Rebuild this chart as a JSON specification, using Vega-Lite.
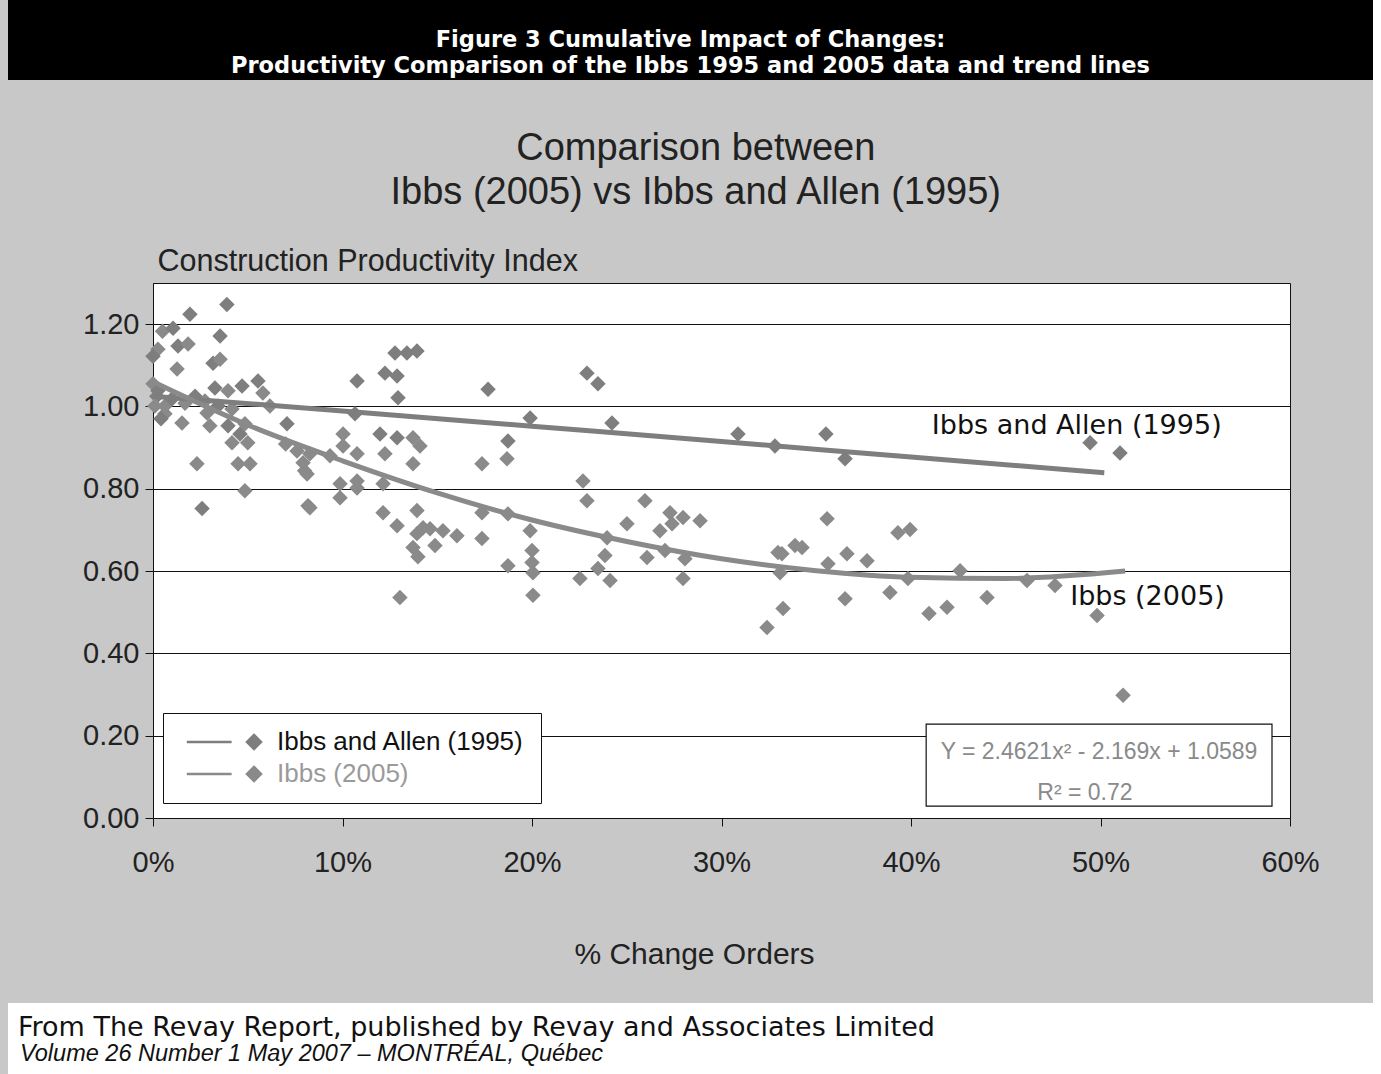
{
  "$schema": "https://vega.github.io/schema/vega-lite/v6.json",
  "background": "#c8c8c8",
  "padding": {"left": 8, "top": 0, "right": 0, "bottom": 0},
  "spacing": 5,
  "config": {"view": {"stroke": null}, "font": "Liberation Sans"},
  "datasets": {
    "points": [
      {"x":0.039,"y":1.248,"series":"Ibbs and Allen (1995)"},
      {"x":0.0195,"y":1.224,"series":"Ibbs and Allen (1995)"},
      {"x":0.005,"y":1.183,"series":"Ibbs (2005)"},
      {"x":0.0106,"y":1.19,"series":"Ibbs and Allen (1995)"},
      {"x":0.0354,"y":1.171,"series":"Ibbs and Allen (1995)"},
      {"x":0.0026,"y":1.139,"series":"Ibbs (2005)"},
      {"x":0.0132,"y":1.147,"series":"Ibbs and Allen (1995)"},
      {"x":0.0185,"y":1.152,"series":"Ibbs (2005)"},
      {"x":0.0,"y":1.122,"series":"Ibbs and Allen (1995)"},
      {"x":0.0127,"y":1.091,"series":"Ibbs (2005)"},
      {"x":0.0317,"y":1.105,"series":"Ibbs and Allen (1995)"},
      {"x":0.0354,"y":1.115,"series":"Ibbs (2005)"},
      {"x":0.0,"y":1.055,"series":"Ibbs (2005)"},
      {"x":0.0026,"y":1.038,"series":"Ibbs and Allen (1995)"},
      {"x":0.0327,"y":1.045,"series":"Ibbs and Allen (1995)"},
      {"x":0.0396,"y":1.038,"series":"Ibbs (2005)"},
      {"x":0.047,"y":1.05,"series":"Ibbs and Allen (1995)"},
      {"x":0.0554,"y":1.062,"series":"Ibbs and Allen (1995)"},
      {"x":0.058,"y":1.033,"series":"Ibbs (2005)"},
      {"x":0.0063,"y":0.982,"series":"Ibbs (2005)"},
      {"x":0.0153,"y":0.96,"series":"Ibbs (2005)"},
      {"x":0.03,"y":0.953,"series":"Ibbs (2005)"},
      {"x":0.0396,"y":0.953,"series":"Ibbs and Allen (1995)"},
      {"x":0.0285,"y":0.984,"series":"Ibbs (2005)"},
      {"x":0.0485,"y":0.958,"series":"Ibbs (2005)"},
      {"x":0.0707,"y":0.958,"series":"Ibbs and Allen (1995)"},
      {"x":0.0417,"y":0.912,"series":"Ibbs (2005)"},
      {"x":0.05,"y":0.912,"series":"Ibbs (2005)"},
      {"x":0.0232,"y":0.861,"series":"Ibbs (2005)"},
      {"x":0.0449,"y":0.861,"series":"Ibbs (2005)"},
      {"x":0.0512,"y":0.861,"series":"Ibbs (2005)"},
      {"x":0.0485,"y":0.795,"series":"Ibbs (2005)"},
      {"x":0.0259,"y":0.752,"series":"Ibbs and Allen (1995)"},
      {"x":0.0818,"y":0.759,"series":"Ibbs (2005)"},
      {"x":0.07,"y":0.909,"series":"Ibbs (2005)"},
      {"x":0.08,"y":0.844,"series":"Ibbs (2005)"},
      {"x":0.002,"y":1.025,"series":"Ibbs and Allen (1995)"},
      {"x":0.0063,"y":1.001,"series":"Ibbs (2005)"},
      {"x":0.01,"y":1.018,"series":"Ibbs and Allen (1995)"},
      {"x":0.0169,"y":1.008,"series":"Ibbs (2005)"},
      {"x":0.0222,"y":1.025,"series":"Ibbs and Allen (1995)"},
      {"x":0.0274,"y":1.013,"series":"Ibbs (2005)"},
      {"x":0.0343,"y":1.001,"series":"Ibbs and Allen (1995)"},
      {"x":0.0417,"y":0.994,"series":"Ibbs (2005)"},
      {"x":0.0042,"y":0.97,"series":"Ibbs and Allen (1995)"},
      {"x":0.001,"y":1.001,"series":"Ibbs (2005)"},
      {"x":0.0617,"y":1.001,"series":"Ibbs (2005)"},
      {"x":0.0459,"y":0.933,"series":"Ibbs and Allen (1995)"},
      {"x":0.076,"y":0.892,"series":"Ibbs (2005)"},
      {"x":0.0828,"y":0.885,"series":"Ibbs (2005)"},
      {"x":0.0792,"y":0.863,"series":"Ibbs (2005)"},
      {"x":0.0813,"y":0.836,"series":"Ibbs (2005)"},
      {"x":0.1077,"y":1.062,"series":"Ibbs and Allen (1995)"},
      {"x":0.1277,"y":1.13,"series":"Ibbs and Allen (1995)"},
      {"x":0.134,"y":1.13,"series":"Ibbs and Allen (1995)"},
      {"x":0.1393,"y":1.135,"series":"Ibbs and Allen (1995)"},
      {"x":0.1224,"y":1.081,"series":"Ibbs and Allen (1995)"},
      {"x":0.1288,"y":1.074,"series":"Ibbs and Allen (1995)"},
      {"x":0.1293,"y":1.021,"series":"Ibbs and Allen (1995)"},
      {"x":0.1066,"y":0.982,"series":"Ibbs and Allen (1995)"},
      {"x":0.1003,"y":0.933,"series":"Ibbs (2005)"},
      {"x":0.1003,"y":0.904,"series":"Ibbs (2005)"},
      {"x":0.1198,"y":0.933,"series":"Ibbs and Allen (1995)"},
      {"x":0.1288,"y":0.924,"series":"Ibbs and Allen (1995)"},
      {"x":0.1372,"y":0.924,"series":"Ibbs (2005)"},
      {"x":0.1409,"y":0.904,"series":"Ibbs (2005)"},
      {"x":0.1224,"y":0.885,"series":"Ibbs (2005)"},
      {"x":0.1372,"y":0.861,"series":"Ibbs (2005)"},
      {"x":0.1077,"y":0.885,"series":"Ibbs (2005)"},
      {"x":0.0934,"y":0.88,"series":"Ibbs (2005)"},
      {"x":0.0987,"y":0.812,"series":"Ibbs (2005)"},
      {"x":0.1077,"y":0.819,"series":"Ibbs (2005)"},
      {"x":0.1214,"y":0.812,"series":"Ibbs (2005)"},
      {"x":0.0987,"y":0.778,"series":"Ibbs (2005)"},
      {"x":0.0828,"y":0.754,"series":"Ibbs (2005)"},
      {"x":0.1214,"y":0.742,"series":"Ibbs (2005)"},
      {"x":0.1288,"y":0.71,"series":"Ibbs (2005)"},
      {"x":0.1393,"y":0.747,"series":"Ibbs (2005)"},
      {"x":0.1425,"y":0.705,"series":"Ibbs (2005)"},
      {"x":0.1393,"y":0.691,"series":"Ibbs (2005)"},
      {"x":0.1462,"y":0.703,"series":"Ibbs (2005)"},
      {"x":0.153,"y":0.698,"series":"Ibbs (2005)"},
      {"x":0.1604,"y":0.686,"series":"Ibbs (2005)"},
      {"x":0.1372,"y":0.657,"series":"Ibbs (2005)"},
      {"x":0.1398,"y":0.635,"series":"Ibbs (2005)"},
      {"x":0.1488,"y":0.662,"series":"Ibbs (2005)"},
      {"x":0.1303,"y":0.536,"series":"Ibbs (2005)"},
      {"x":0.1077,"y":0.802,"series":"Ibbs (2005)"},
      {"x":0.1768,"y":1.042,"series":"Ibbs and Allen (1995)"},
      {"x":0.229,"y":1.081,"series":"Ibbs and Allen (1995)"},
      {"x":0.2348,"y":1.055,"series":"Ibbs and Allen (1995)"},
      {"x":0.199,"y":0.972,"series":"Ibbs and Allen (1995)"},
      {"x":0.2422,"y":0.96,"series":"Ibbs and Allen (1995)"},
      {"x":0.1873,"y":0.916,"series":"Ibbs and Allen (1995)"},
      {"x":0.1868,"y":0.873,"series":"Ibbs (2005)"},
      {"x":0.1736,"y":0.861,"series":"Ibbs (2005)"},
      {"x":0.2269,"y":0.819,"series":"Ibbs (2005)"},
      {"x":0.229,"y":0.771,"series":"Ibbs (2005)"},
      {"x":0.1736,"y":0.742,"series":"Ibbs (2005)"},
      {"x":0.1873,"y":0.739,"series":"Ibbs (2005)"},
      {"x":0.2501,"y":0.715,"series":"Ibbs (2005)"},
      {"x":0.2396,"y":0.681,"series":"Ibbs (2005)"},
      {"x":0.199,"y":0.698,"series":"Ibbs (2005)"},
      {"x":0.1736,"y":0.679,"series":"Ibbs (2005)"},
      {"x":0.2,"y":0.65,"series":"Ibbs (2005)"},
      {"x":0.2,"y":0.621,"series":"Ibbs (2005)"},
      {"x":0.2005,"y":0.596,"series":"Ibbs (2005)"},
      {"x":0.1873,"y":0.613,"series":"Ibbs (2005)"},
      {"x":0.2348,"y":0.606,"series":"Ibbs (2005)"},
      {"x":0.2385,"y":0.638,"series":"Ibbs (2005)"},
      {"x":0.2253,"y":0.582,"series":"Ibbs (2005)"},
      {"x":0.2412,"y":0.577,"series":"Ibbs (2005)"},
      {"x":0.2005,"y":0.541,"series":"Ibbs (2005)"},
      {"x":0.2596,"y":0.771,"series":"Ibbs (2005)"},
      {"x":0.2728,"y":0.742,"series":"Ibbs (2005)"},
      {"x":0.2797,"y":0.73,"series":"Ibbs (2005)"},
      {"x":0.2887,"y":0.722,"series":"Ibbs (2005)"},
      {"x":0.2739,"y":0.715,"series":"Ibbs (2005)"},
      {"x":0.2675,"y":0.698,"series":"Ibbs (2005)"},
      {"x":0.2607,"y":0.633,"series":"Ibbs (2005)"},
      {"x":0.2807,"y":0.63,"series":"Ibbs (2005)"},
      {"x":0.2702,"y":0.65,"series":"Ibbs (2005)"},
      {"x":0.2797,"y":0.582,"series":"Ibbs (2005)"},
      {"x":0.3087,"y":0.933,"series":"Ibbs and Allen (1995)"},
      {"x":0.3282,"y":0.904,"series":"Ibbs and Allen (1995)"},
      {"x":0.3298,"y":0.645,"series":"Ibbs (2005)"},
      {"x":0.324,"y":0.463,"series":"Ibbs (2005)"},
      {"x":0.3319,"y":0.642,"series":"Ibbs (2005)"},
      {"x":0.3388,"y":0.662,"series":"Ibbs (2005)"},
      {"x":0.3425,"y":0.657,"series":"Ibbs (2005)"},
      {"x":0.3309,"y":0.596,"series":"Ibbs (2005)"},
      {"x":0.3325,"y":0.509,"series":"Ibbs (2005)"},
      {"x":0.3551,"y":0.933,"series":"Ibbs and Allen (1995)"},
      {"x":0.3652,"y":0.873,"series":"Ibbs and Allen (1995)"},
      {"x":0.3557,"y":0.727,"series":"Ibbs (2005)"},
      {"x":0.3931,"y":0.693,"series":"Ibbs (2005)"},
      {"x":0.3995,"y":0.701,"series":"Ibbs (2005)"},
      {"x":0.3662,"y":0.642,"series":"Ibbs (2005)"},
      {"x":0.3768,"y":0.625,"series":"Ibbs (2005)"},
      {"x":0.3562,"y":0.618,"series":"Ibbs (2005)"},
      {"x":0.3984,"y":0.582,"series":"Ibbs (2005)"},
      {"x":0.4259,"y":0.601,"series":"Ibbs (2005)"},
      {"x":0.4612,"y":0.577,"series":"Ibbs (2005)"},
      {"x":0.476,"y":0.565,"series":"Ibbs (2005)"},
      {"x":0.3652,"y":0.533,"series":"Ibbs (2005)"},
      {"x":0.3889,"y":0.548,"series":"Ibbs (2005)"},
      {"x":0.4095,"y":0.497,"series":"Ibbs (2005)"},
      {"x":0.419,"y":0.512,"series":"Ibbs (2005)"},
      {"x":0.4401,"y":0.536,"series":"Ibbs (2005)"},
      {"x":0.4945,"y":0.912,"series":"Ibbs and Allen (1995)"},
      {"x":0.5103,"y":0.887,"series":"Ibbs and Allen (1995)"},
      {"x":0.4982,"y":0.492,"series":"Ibbs (2005)"},
      {"x":0.5119,"y":0.298,"series":"Ibbs (2005)"}
    ],
    "trend": [
      {"x":0.0,"y":1.025,"series":"Ibbs and Allen (1995)"},
      {"x":0.1,"y":0.989,"series":"Ibbs and Allen (1995)"},
      {"x":0.2,"y":0.952,"series":"Ibbs and Allen (1995)"},
      {"x":0.3,"y":0.915,"series":"Ibbs and Allen (1995)"},
      {"x":0.4,"y":0.877,"series":"Ibbs and Allen (1995)"},
      {"x":0.502,"y":0.839,"series":"Ibbs and Allen (1995)"},
      {"x":0.0,"y":1.06,"series":"Ibbs (2005)"},
      {"x":0.05,"y":0.955,"series":"Ibbs (2005)"},
      {"x":0.1,"y":0.868,"series":"Ibbs (2005)"},
      {"x":0.15,"y":0.79,"series":"Ibbs (2005)"},
      {"x":0.2,"y":0.724,"series":"Ibbs (2005)"},
      {"x":0.25,"y":0.672,"series":"Ibbs (2005)"},
      {"x":0.3,"y":0.63,"series":"Ibbs (2005)"},
      {"x":0.35,"y":0.601,"series":"Ibbs (2005)"},
      {"x":0.4,"y":0.585,"series":"Ibbs (2005)"},
      {"x":0.45,"y":0.582,"series":"Ibbs (2005)"},
      {"x":0.513,"y":0.6,"series":"Ibbs (2005)"}
    ]
  },
  "vconcat": [
    {
      "width": 1365,
      "height": 80,
      "view": {"fill": "black", "stroke": null},
      "data": {"values": [{"t": "Figure 3 Cumulative Impact of Changes:\nProductivity Comparison of the Ibbs 1995 and 2005 data and trend lines"}]},
      "mark": {"type": "text", "color": "white", "font": "DejaVu Sans", "fontWeight": "bold", "fontSize": 22.5, "lineBreak": "\n", "lineHeight": 25.5, "baseline": "middle", "align": "center"},
      "encoding": {"text": {"field": "t"}}
    },
    {
      "spacing": 0,
      "hconcat": [
        {
          "width": 74,
          "height": 535,
          "data": {"values": []},
          "mark": {"type": "point"},
          "encoding": {}
        },
        {
          "width": 1137,
          "height": 535,
          "view": {"fill": "white", "stroke": "#111", "strokeWidth": 1},
          "title": {
            "text": ["", "Comparison between", "Ibbs (2005) vs Ibbs and Allen (1995)"],
            "fontSize": 38, "font": "Liberation Sans", "fontWeight": "normal", "color": "#222",
            "lineHeight": 44, "offset": 34, "frame": "bounds", "anchor": "middle", "dx": -5
          },
          "layer": [
            {
              "data": {"name": "points"},
              "mark": {"type": "point", "shape": "diamond", "filled": true, "size": 240, "opacity": 1},
              "encoding": {
                "x": {"field": "x", "type": "quantitative",
                  "scale": {"domain": [0, 0.6], "nice": false},
                  "axis": {"values": [0, 0.1, 0.2, 0.3, 0.4, 0.5, 0.6], "format": ".0%", "grid": false,
                    "tickSize": 8, "tickColor": "#111", "domainColor": "#111", "labelFontSize": 29,
                    "labelFont": "Liberation Sans", "labelColor": "#222", "labelPadding": 22, "labelFlush": false,
                    "title": ["% Change Orders", ""], "titleFontSize": 30, "titleFontWeight": "normal",
                    "titleFont": "Liberation Sans", "titleColor": "#222", "titlePadding": 62, "titleX": 541,
                    "titleLineHeight": 28}},
                "y": {"field": "y", "type": "quantitative",
                  "scale": {"domain": [0, 1.3], "nice": false, "zero": true},
                  "axis": {"values": [0, 0.2, 0.4, 0.6, 0.8, 1.0, 1.2], "format": ".2f", "grid": true,
                    "gridColor": "#111", "gridWidth": 1, "tickSize": 8, "tickColor": "#111", "domainColor": "#111",
                    "labelFontSize": 29, "labelFont": "Liberation Sans", "labelColor": "#222", "labelPadding": 6,
                    "title": "Construction Productivity Index", "titleAngle": 0, "titleAlign": "left",
                    "titleBaseline": "middle", "titleX": 4, "titleY": -22, "titleFontSize": 30.5,
                    "titleFontWeight": "normal", "titleFont": "Liberation Sans", "titleColor": "#222"}},
                "color": {"field": "series", "type": "nominal",
                  "scale": {"domain": ["Ibbs and Allen (1995)", "Ibbs (2005)"], "range": ["#7e7e7e", "#8a8a8a"]},
                  "legend": {"title": null, "orient": "none", "legendX": 155, "legendY": 713,
                    "fillColor": "white", "strokeColor": "#111", "padding": 16,
                    "labelFontSize": 26, "labelFont": "Liberation Sans", "labelLimit": 400,
                    "labelColor": {"expr": "datum.label === 'Ibbs (2005)' ? '#9a9a9a' : '#111111'"},
                    "symbolType": "M-9.6,0L-3.2,0M0,-1L1,0L0,1L-1,0Z", "symbolSize": 196,
                    "symbolStrokeWidth": 2.5, "symbolOffset": 62, "labelOffset": 10, "rowPadding": 6,
                    "encode": {
                      "symbols": {"update": {"fill": {"scale": "color", "field": "value"}, "stroke": {"scale": "color", "field": "value"}, "strokeWidth": {"value": 2.5}, "opacity": {"value": 1}}}
                    }}}
              }
            },
            {
              "data": {"name": "trend"},
              "mark": {"type": "line", "strokeWidth": 5, "interpolate": "monotone"},
              "encoding": {
                "x": {"field": "x", "type": "quantitative"},
                "y": {"field": "y", "type": "quantitative"},
                "color": {"field": "series", "type": "nominal"}
              }
            },
            {
              "data": {"values": [{"label": "Ibbs and Allen (1995)"}]},
              "mark": {"type": "text", "align": "left", "baseline": "middle", "font": "DejaVu Sans", "fontSize": 27, "color": "#111"},
              "encoding": {"x": {"datum": 0.411}, "y": {"datum": 0.953}, "text": {"field": "label"}}
            },
            {
              "data": {"values": [{"label": "Ibbs (2005)"}]},
              "mark": {"type": "text", "align": "left", "baseline": "middle", "font": "DejaVu Sans", "fontSize": 27, "color": "#111"},
              "encoding": {"x": {"datum": 0.484}, "y": {"datum": 0.538}, "text": {"field": "label"}}
            },
            {
              "data": {"values": [{"label": "trendline equation"}]},
              "mark": {"type": "rect", "fill": "white", "stroke": "#111", "strokeWidth": 1.2},
              "encoding": {"x": {"datum": 0.408}, "x2": {"datum": 0.5905}, "y": {"datum": 0.228}, "y2": {"datum": 0.029}}
            },
            {
              "data": {"values": [{"label": "Y = 2.4621x² - 2.169x + 1.0589"}]},
              "mark": {"type": "text", "align": "center", "baseline": "middle", "font": "Liberation Sans", "fontSize": 23, "color": "#8a8a8a"},
              "encoding": {"x": {"datum": 0.4992}, "y": {"datum": 0.16}, "text": {"field": "label"}}
            },
            {
              "data": {"values": [{"label": "R² = 0.72"}]},
              "mark": {"type": "text", "align": "center", "baseline": "middle", "font": "Liberation Sans", "fontSize": 23, "color": "#8a8a8a"},
              "encoding": {"x": {"datum": 0.4918}, "y": {"datum": 0.0606}, "text": {"field": "label"}}
            }
          ]
        }
      ]
    },
    {
      "width": 1365,
      "height": 72,
      "view": {"fill": "white", "stroke": null},
      "layer": [
        {
          "data": {"values": [{"t": "From The Revay Report, published by Revay and Associates Limited"}]},
          "mark": {"type": "text", "align": "left", "baseline": "alphabetic", "font": "DejaVu Sans", "fontSize": 27, "color": "#111", "dx": 10, "dy": -3},
          "encoding": {"text": {"field": "t"}, "x": {"datum": 0, "type": "quantitative", "scale": {"domain": [0, 1]}, "axis": null}}
        },
        {
          "data": {"values": [{"t": "Volume 26 Number 1 May 2007 – MONTRÉAL, Québec"}]},
          "mark": {"type": "text", "align": "left", "baseline": "alphabetic", "font": "Liberation Sans", "fontStyle": "italic", "fontSize": 23.5, "color": "#111", "dx": 12, "dy": 22},
          "encoding": {"text": {"field": "t"}, "x": {"datum": 0, "type": "quantitative"}}
        }
      ]
    }
  ]
}
